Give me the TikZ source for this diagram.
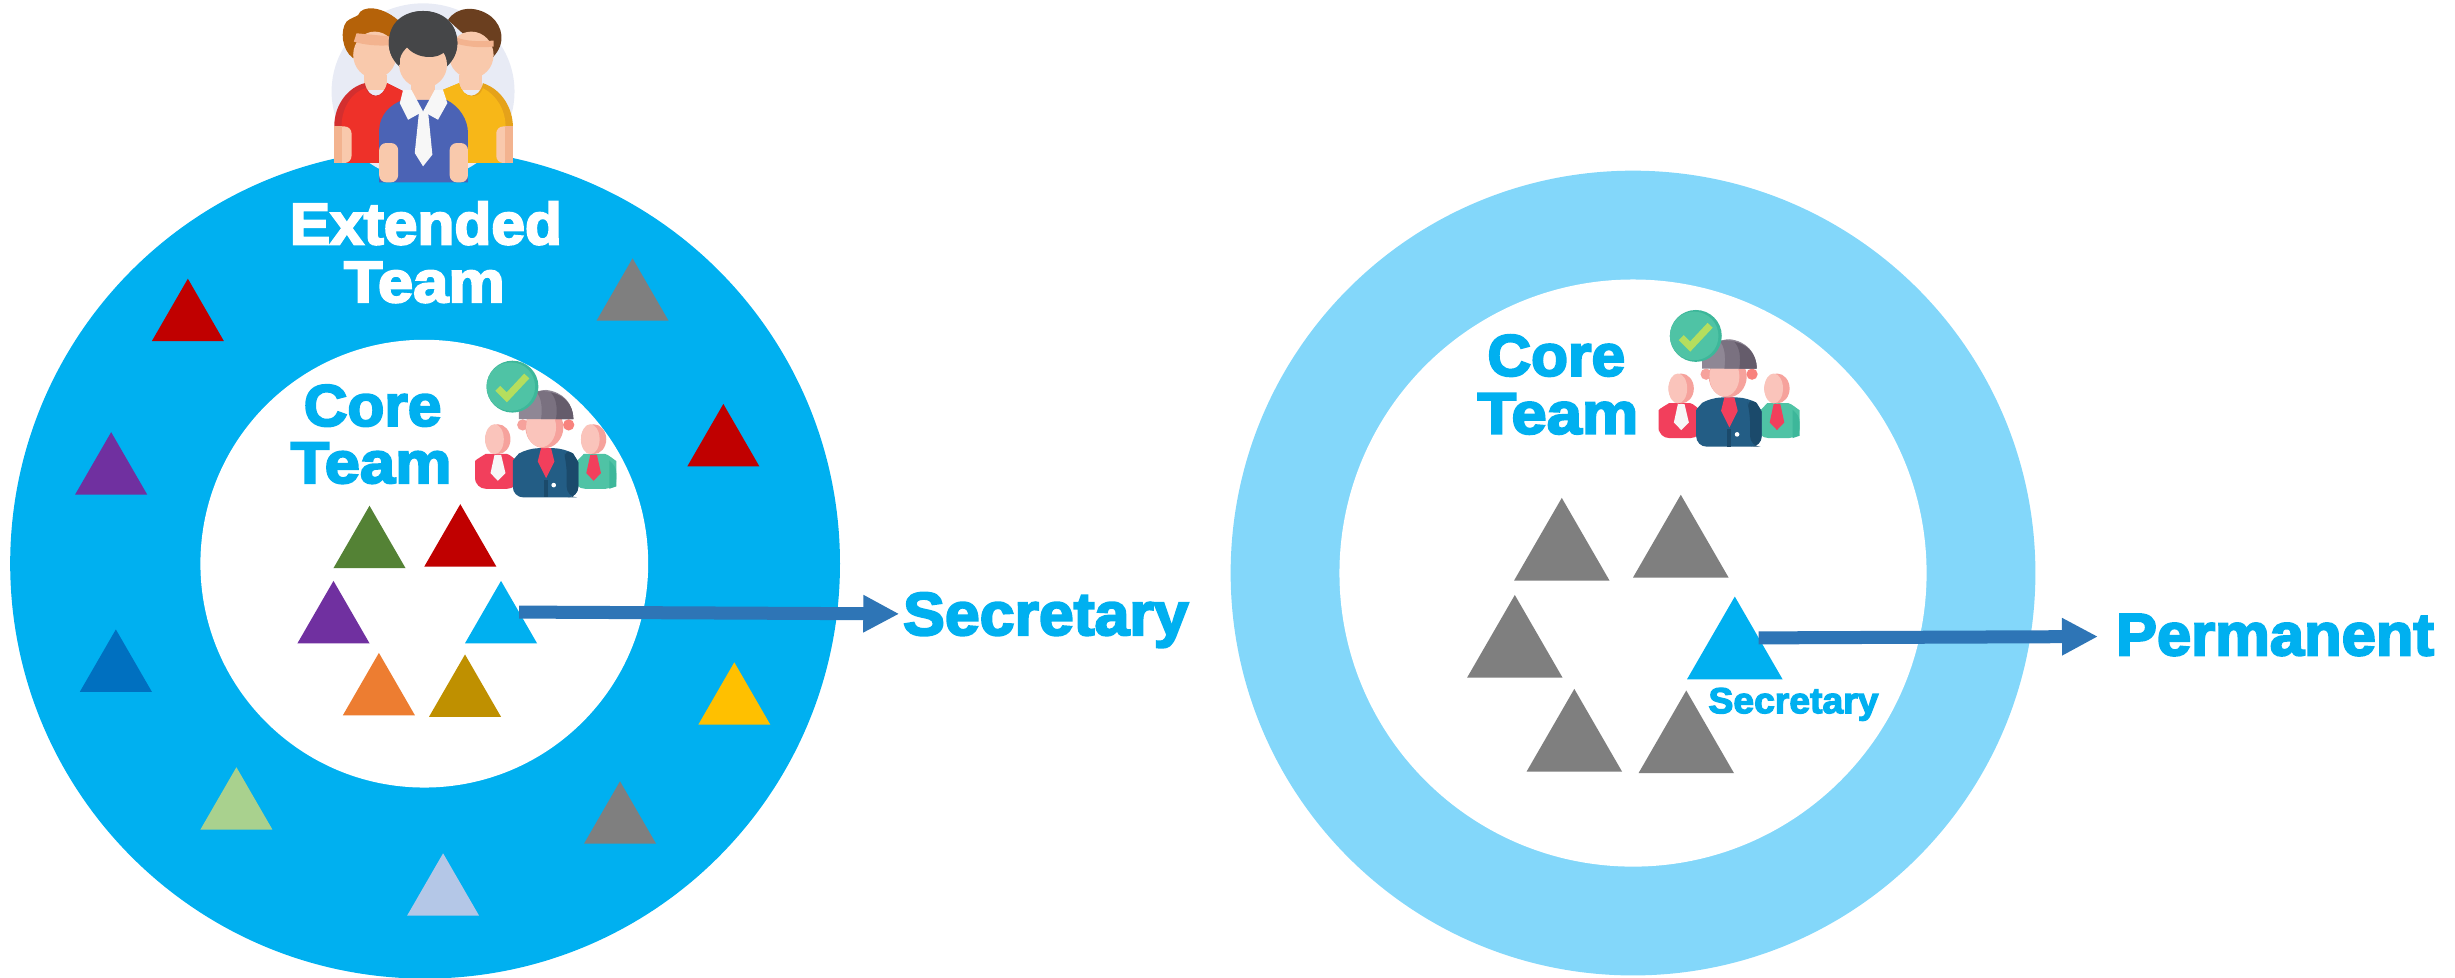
\documentclass[tikz,border=0pt]{standalone}
\usepackage{fontspec}
\usetikzlibrary{shapes.geometric,arrows.meta}
\newfontfamily\teamfont[FakeBold=3.5,FakeStretch=1.03]{Liberation Sans Bold}
\newfontfamily\teamwide[FakeBold=3.5,FakeStretch=1.08]{Liberation Sans Bold}
\definecolor{ringblue}{HTML}{00B0F0}
\definecolor{ringlight}{HTML}{83D7FA}
\definecolor{arrowblue}{HTML}{2E75B6}
\definecolor{darkred}{HTML}{C00000}
\definecolor{midgray}{HTML}{7F7F7F}
\definecolor{violet}{HTML}{7030A0}
\definecolor{deepblue}{HTML}{0070C0}
\definecolor{amber}{HTML}{FFC000}
\definecolor{leaf}{HTML}{A9D18E}
\definecolor{paleblue}{HTML}{B4C7E7}
\definecolor{moss}{HTML}{548235}
\definecolor{carrot}{HTML}{ED7D31}
\definecolor{gold}{HTML}{BF9000}
\definecolor{skin}{HTML}{F9C9AC}
\definecolor{skindark}{HTML}{F3B38F}
\definecolor{pink}{HTML}{FAC4BB}
\definecolor{pinkdark}{HTML}{F6A29C}
\definecolor{rose}{HTML}{F23F5C}
\definecolor{mint}{HTML}{4FC3A5}
\definecolor{mintdark}{HTML}{3DB79A}
\definecolor{navy}{HTML}{235D85}
\definecolor{navydark}{HTML}{1B4A6B}
\definecolor{hairgray}{HTML}{8F8795}
\definecolor{hairmid}{HTML}{7A7180}
\definecolor{hairdark}{HTML}{655C6B}
\definecolor{tick}{HTML}{B5DE5E}
\definecolor{haze}{HTML}{E8EBF5}
\definecolor{shirtred}{HTML}{EE3129}
\definecolor{shirtreddark}{HTML}{D32F2F}
\definecolor{shirtyellow}{HTML}{F7B718}
\definecolor{shirtyellowdark}{HTML}{E5A21A}
\definecolor{shirtblue}{HTML}{4B63B5}
\definecolor{hairorange}{HTML}{B56209}
\definecolor{hairbrown}{HTML}{6B3F1F}
\definecolor{hairblack}{HTML}{454648}
\definecolor{collar}{HTML}{F7F7F7}
\tikzset{
	trismall/.style={regular polygon,regular polygon sides=3,anchor=corner 1,inner sep=0pt,outer sep=0pt,minimum size=.8316cm},
	tribig/.style={trismall,minimum size=1.103cm},
	bigtext/.style={font=\teamfont\fontsize{16.7}{18}\selectfont,anchor=base,inner sep=0pt},
	teamword/.style={bigtext,font=\teamwide\fontsize{16.7}{18}\selectfont},
	flow/.style={draw=arrowblue,line width=3.7pt,-{Triangle[length=.36cm,width=.35cm]}},
	coreicon/.pic={
		\begin{scope}[x=.003333cm,y=-.003333cm]
		% side persons
		\fill[rose,rounded corners=3pt] (587,447) -- (587,395) .. controls (587,360) and (620,342) .. (650,342) .. controls (690,342) and (715,365) .. (715,400) -- (715,447) -- cycle;
		\fill[mint,rounded corners=3pt] (885,447) -- (885,400) .. controls (890,365) and (915,342) .. (945,342) .. controls (985,342) and (1011,365) .. (1011,395) -- (1011,447) -- cycle;
		\fill[mintdark] (990,362) .. controls (1005,375) and (1011,385) .. (1011,400) -- (1011,440) -- (990,447) -- cycle;
		\fill[pinkdark] (655,298) ellipse (38 and 45);
		\fill[pink] (645,298) ellipse (28 and 45);
		\fill[pinkdark] (943,298) ellipse (38 and 45);
		\fill[pink] (933,298) ellipse (28 and 45);
		\fill[collar] (645,345) -- (665,345) -- (678,400) -- (655,423) -- (633,400) -- cycle;
		\fill[rose] (933,345) -- (953,345) -- (965,400) -- (943,423) -- (921,400) -- cycle;
		% centre person
		\fill[navy,rounded corners=3pt] (700,473) -- (700,395) .. controls (700,360) and (720,340) .. (745,325) -- (855,325) .. controls (880,340) and (897,365) .. (897,400) -- (897,473) -- cycle;
		\fill[navydark,rounded corners=3pt] (862,473) -- (862,370) -- (850,325) .. controls (880,340) and (897,365) .. (897,400) -- (897,473) -- cycle;
		\fill[rose] (785,325) -- (815,325) -- (825,365) -- (800,415) -- (775,365) -- cycle;
		\fill[navydark] (794,420) rectangle (806,473);
		\fill[white] (823,436) circle (7);
		\fill[pinkdark] (730,255) circle (17);
		\fill[pinkdark!80!red] (868,255) circle (17);
		\fill[pinkdark] (795,262) ellipse (57 and 63);
		\fill[pink] (785,262) ellipse (45 and 60);
		\fill[hairgray] (718,238) -- (718,215) .. controls (725,170) and (770,150) .. (800,150) .. controls (850,155) and (882,190) .. (882,238) -- cycle;
		\fill[hairmid] (785,238) .. controls (790,200) and (785,170) .. (770,155) .. controls (840,145) and (882,190) .. (882,238) -- cycle;
		\fill[hairdark] (830,238) .. controls (835,200) and (830,175) .. (815,158) .. controls (855,165) and (882,195) .. (882,238) -- cycle;
		% check mark
		\fill[mintdark] (699,140) circle (78);
		\fill[mint] (694,140) circle (73);
		\draw[draw=tick,line width=2pt] (655,145) -- (682,172) -- (742,108);
		\end{scope}
	},
	teamicon/.pic={
		\begin{scope}[x=.003333cm,y=-.003333cm]
		\fill[haze] (370,275) ellipse (275 and 265);
		% left person
		\fill[hairorange] (160,175) .. controls (125,150) and (120,90) .. (140,65) .. controls (150,55) and (170,50) .. (175,45) .. controls (185,15) and (250,15) .. (305,70) -- (270,140) -- cycle;
		\fill[skin] (225,165) ellipse (65 and 70);
		\fill[skindark] (162,125) .. controls (190,135) and (240,140) .. (280,135) -- (275,110) -- (170,100) -- cycle;
		\fill[skin] (193,225) rectangle (262,270);
		\fill[shirtreddark] (103,380) .. controls (103,310) and (150,260) .. (195,250) .. controls (205,300) and (250,300) .. (262,250) -- (312,275) -- (312,490) -- (103,490) -- cycle;
		\fill[shirtred] (125,380) .. controls (125,320) and (160,275) .. (197,265) .. controls (210,300) and (250,300) .. (262,250) -- (312,275) -- (312,490) -- (125,490) -- cycle;
		\fill[skin,rounded corners=2pt] (103,380) rectangle (155,490);
		\fill[skindark] (103,380) rectangle (125,490);
		% right person
		\fill[hairbrown] (445,60) .. controls (470,20) and (530,15) .. (575,50) .. controls (610,80) and (620,130) .. (580,172) -- (500,110) -- cycle;
		\fill[skin] (515,165) ellipse (67 and 70);
		\fill[skindark] (470,112) .. controls (500,125) and (540,125) .. (582,122) -- (582,140) .. controls (540,145) and (500,140) .. (465,130) -- cycle;
		\fill[skin] (478,225) rectangle (548,270);
		\fill[shirtyellowdark] (430,270) -- (478,250) .. controls (490,300) and (540,300) .. (550,250) .. controls (610,270) and (640,330) .. (640,380) -- (640,490) -- (430,490) -- cycle;
		\fill[shirtyellow] (430,270) -- (478,250) .. controls (490,300) and (540,300) .. (550,265) .. controls (590,285) and (618,330) .. (618,380) -- (618,490) -- (430,490) -- cycle;
		\fill[skin,rounded corners=2pt] (590,380) rectangle (640,490);
		\fill[skindark] (617,380) rectangle (640,490);
		% centre person
		\fill[hairblack] (370,130) ellipse (103 and 97);
		\fill[skin] (370,195) ellipse (72 and 70);
		\fill[hairblack] (267,130) .. controls (267,60) and (320,33) .. (370,33) .. controls (430,33) and (473,70) .. (473,130) .. controls (473,160) and (460,180) .. (443,195) -- (440,150) .. controls (420,180) and (350,180) .. (320,140) .. controls (310,135) and (300,145) .. (300,195) .. controls (280,180) and (267,160) .. (267,130) -- cycle;
		\fill[skin] (335,255) rectangle (405,310);
		\fill[shirtblue] (238,430) -- (238,390) .. controls (240,345) and (270,315) .. (310,300) -- (440,300) .. controls (480,320) and (505,360) .. (505,400) -- (505,548) -- (238,548) -- cycle;
		\fill[skin,rounded corners=2pt] (238,430) rectangle (295,548);
		\fill[skin,rounded corners=2pt] (450,430) rectangle (505,548);
		\fill[collar] (310,270) -- (335,270) -- (370,335) -- (405,270) -- (430,270) -- (443,310) -- (415,360) -- (370,335) -- (325,360) -- (300,310) -- cycle;
		\fill[collar] (358,335) -- (385,335) -- (398,465) -- (370,500) -- (345,460) -- cycle;
		\end{scope}
	}
}

\begin{document}
\begin{tikzpicture}[x=.015657cm,y=-.015657cm]
\useasboundingbox (0,0) rectangle (1568,624.6);
% rings
\fill[ringblue] (271.5,360) circle (265);
\fill[white] (271,360) circle (143);
\fill[ringlight] (1043,366) circle (257);
\fill[white] (1043,366) circle (187.5);
% extended team
\foreach \px/\py/\col/\nm in {120/178/darkred/exta,404/165/midgray/extb,71/276/violet/extc,462/258/darkred/extd,74/402/deepblue/exte,469/423/amber/extf,151/490/leaf/extg,396/499/midgray/exth,283/545/paleblue/exti}
	\node[trismall,fill=\col] (\nm) at (\px,\py) {};
% core team, left
\foreach \px/\py/\col/\nm in {236/323/moss/corea,294/322/darkred/coreb,213/371/violet/corec,242/417/carrot/cored,297/418/gold/coree,320/371/ringblue/secleft}
	\node[trismall,fill=\col] (\nm) at (\px,\py) {};
% core team, right
\foreach \px/\py/\col/\nm in {997.5/318/midgray/perma,1073.5/316/midgray/permb,967.5/380/midgray/permc,1005.5/440/midgray/permd,1077/441/midgray/perme,1108/381/ringblue/secright}
	\node[tribig,fill=\col] (\nm) at (\px,\py) {};
% labels
\node[bigtext,text=white] (exttop) at (272,156) {Extended};
\node[teamword,text=white] (extbot) at (271,193) {Team};
\node[bigtext,text=ringblue] (coretopl) at (238,272) {Core};
\node[teamword,text=ringblue] (corebotl) at (237,308.5) {Team};
\node[bigtext,text=ringblue] (coretopr) at (994,240) {Core};
\node[teamword,text=ringblue] (corebotr) at (995,277) {Team};
\node[bigtext,text=ringblue,font=\teamfont\fontsize{17.3}{18}\selectfont] (secbig) at (668,405.6) {Secretary};
\node[bigtext,text=ringblue,font=\teamfont\fontsize{17}{18}\selectfont] (perm) at (1453,418.5) {Permanent};
\node[bigtext,text=ringblue,font=\teamfont\fontsize{10.3}{12}\selectfont] (secsmall) at (1145.5,455.5) {Secretary};
% arrows
\coordinate (secend) at ([shift={(-2,-4)}]secbig.west);
\coordinate (permend) at ([shift={(-11,1)}]perm.west);
\draw[flow] (secleft.side 3) -- (secend);
\draw[flow] (secright.side 3) -- (permend);
% icons
\pic at (178.8,217.2) {coreicon};
\pic at (934.6,184.8) {coreicon};
\pic at (191.6,0) {teamicon};
\end{tikzpicture}
\end{document}
